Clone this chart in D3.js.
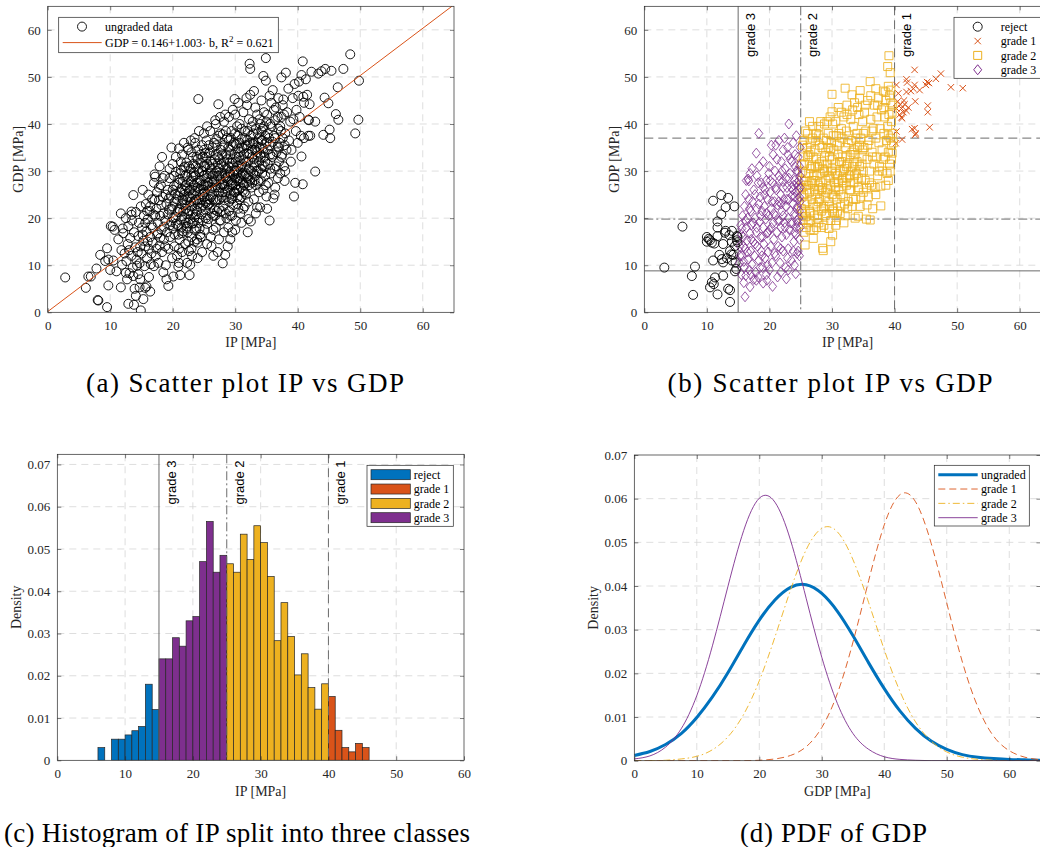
<!DOCTYPE html>
<html><head><meta charset="utf-8">
<script src="https://cdn.jsdelivr.net/npm/d3@7"></script>
<style>
body{margin:0;background:#fff}
svg{display:block}
</style>
</head><body>
<svg id="chart" width="1040" height="847"></svg>
<script>
// ================= DATA =================
// (a) ungraded data: [IP, GDP]
const scatterA = [
[2.8,7.4],[6.1,5.2],[6.5,7.6],[6.9,7.6],[7.8,9.3],[8.0,2.6],[8.1,2.5],[8.4,12.2],[9.5,1.1],[9.5,13.6],[9.7,5.7],[9.7,11.2],[9.2,10.9],[10.0,9.0],[10.1,18.3],[10.4,18.2],[10.7,17.5],[10.5,11.0],[11.0,8.7],[11.3,15.5],[11.7,21.0],[11.7,5.3],[11.8,13.2],[11.9,10.1],[12.0,17.8],[12.1,16.8],[12.3,12.5],[12.5,8.4],[12.6,10.9],[12.8,14.5],[12.9,1.8],[12.9,18.3],[12.7,7.0],[12.5,20.0],[13.4,21.4],[13.4,20.7],[13.7,24.9],[13.8,1.6],[13.7,7.7],[14.5,8.1],[14.8,7.0],[14.9,0.4],[15.3,2.8],[14.1,3.5],[14.7,5.3],[15.6,5.2],[16.4,4.4],
[13.2,15.8],[13.4,12.0],[13.5,19.5],[13.6,9.5],[13.8,17.0],[14.0,13.8],[14.1,21.3],[14.2,11.2],[14.3,9.9],[14.5,16.2],[14.6,19.0],[14.7,10.4],[14.8,14.0],[14.9,22.5],[13.9,5.0],[13.1,8.3],[14.4,12.8],[13.0,13.2],
[15.0,12.5],[15.1,18.0],[15.2,26.0],[15.3,15.2],[15.4,20.5],[15.5,9.8],[15.6,14.0],[15.7,23.0],[15.8,17.2],[15.9,11.5],[16.0,19.8],[16.1,25.0],[16.2,13.5],[16.3,21.5],[16.4,16.0],[16.5,10.2],[16.6,18.5],[16.7,24.0],[16.8,14.8],[16.9,20.8],[17.0,27.5],[17.0,9.8],[16.2,7.5],[15.8,5.5],
[17.1,29.3],[17.2,28.8],[17.3,12.0],[17.4,22.0],[17.5,16.5],[17.5,25.5],[17.6,19.0],[17.7,10.5],[17.8,23.8],[17.9,14.2],[18.0,20.5],[18.1,27.0],[18.2,17.5],[18.3,12.8],[18.4,24.5],[18.5,21.0],[18.6,15.5],[18.7,29.0],[18.8,19.5],[18.9,10.0],[19.0,23.0],[19.0,7.0],[19.1,17.0],[19.2,26.0],[18.5,8.5],[17.9,31.0],[18.3,33.0],
[19.3,5.6],[19.3,13.5],[19.4,21.8],[19.5,28.5],[19.6,16.0],[19.7,24.8],[19.8,19.2],[19.9,11.5],[20.0,31.5],[20.0,22.5],[20.1,7.6],[20.1,17.8],[20.2,26.8],[20.3,14.0],[20.4,20.2],[20.5,29.8],[20.6,24.0],[20.7,12.0],[20.8,18.5],[20.9,9.7],[20.9,27.5],[21.0,22.0],[21.0,34.8],[20.5,33.0],[19.8,35.0],[20.3,16.5],
[21.1,15.5],[21.2,7.9],[21.2,25.5],[21.3,30.2],[21.3,19.5],[21.4,23.0],[21.5,12.8],[21.5,33.5],[21.6,27.8],[21.7,17.2],[21.7,21.5],[21.8,36.0],[21.9,25.0],[22.0,14.5],[22.0,29.0],[22.1,19.0],[22.2,23.8],[22.2,31.8],[22.3,10.5],[22.3,26.5],[22.4,17.0],[22.5,21.0],[22.5,34.5],[22.6,28.0],[22.6,13.0],[22.7,7.9],[22.7,24.5],[22.8,10.1],[22.8,19.8],[22.9,30.5],[22.9,36.5],[23.0,22.5],[23.0,16.0],[21.6,24.0],[22.1,27.0],[21.4,18.0],
[23.1,26.5],[23.1,12.0],[23.2,33.0],[23.3,19.0],[23.3,28.8],[23.4,23.5],[23.5,15.0],[23.5,37.0],[23.6,25.8],[23.7,20.8],[23.7,31.0],[23.8,17.8],[23.9,27.5],[24.0,23.0],[24.0,14.8],[24.1,45.3],[24.1,34.5],[24.2,29.8],[24.2,20.0],[24.3,25.0],[24.4,16.5],[24.5,31.8],[24.5,22.2],[24.6,27.0],[24.7,12.8],[24.7,35.5],[24.8,19.5],[24.9,29.0],[25.0,24.5],[25.0,38.0],[23.9,15.5],[24.4,26.2],[23.5,22.0],[24.8,33.0],
[25.1,17.5],[25.2,31.0],[25.2,21.8],[25.3,27.0],[25.4,36.5],[25.5,14.5],[25.5,24.0],[25.6,29.5],[25.7,19.8],[25.8,33.8],[25.9,26.0],[26.0,22.0],[26.0,38.5],[26.1,16.0],[26.2,30.5],[26.3,25.0],[26.4,35.0],[26.5,12.0],[26.5,20.5],[26.6,28.0],[26.7,32.5],[26.8,23.8],[26.9,18.0],[27.0,30.0],[27.0,36.8],[26.3,27.5],[25.8,23.0],[26.8,26.5],[25.4,33.0],[26.9,40.0],
[27.1,21.5],[27.2,26.5],[27.3,44.2],[27.3,33.0],[27.4,15.5],[27.5,29.0],[27.5,24.0],[27.6,38.0],[27.7,19.5],[27.8,31.5],[27.9,27.0],[28.0,10.4],[28.0,35.0],[28.1,22.5],[28.2,40.5],[28.2,17.0],[28.3,29.5],[28.4,12.2],[28.4,25.5],[28.5,33.5],[28.6,20.0],[28.7,37.0],[28.8,14.0],[28.8,27.8],[28.9,31.0],[29.0,23.5],[29.0,41.5],[27.8,24.5],[28.5,28.5],[27.4,30.5],[28.2,32.0],[28.9,18.0],[29.0,26.5],
[29.1,34.5],[29.2,20.5],[29.2,29.5],[29.3,25.0],[29.4,38.5],[29.5,17.0],[29.5,31.8],[29.6,27.0],[29.7,22.8],[29.8,36.0],[29.9,45.3],[29.9,30.0],[30.0,25.5],[30.0,42.0],[30.1,19.5],[30.2,33.0],[30.3,28.0],[30.3,23.0],[30.4,37.5],[30.5,31.0],[30.6,26.0],[30.7,40.0],[30.8,21.0],[30.8,34.0],[30.9,29.0],[31.0,24.5],[31.0,36.8],[29.6,32.5],[30.4,29.5],[30.1,27.0],[29.4,28.0],[30.7,24.0],
[31.1,31.5],[31.2,27.5],[31.3,42.5],[31.3,22.0],[31.4,34.8],[31.5,29.0],[31.6,38.5],[31.7,25.0],[31.8,32.0],[31.9,44.0],[32.0,28.5],[32.0,35.5],[32.1,19.8],[32.1,23.5],[32.2,30.5],[32.3,52.8],[32.4,51.7],[32.4,46.2],[32.5,19.3],[32.5,37.5],[32.6,26.5],[32.7,33.0],[32.8,40.5],[32.9,29.5],[33.0,24.0],[33.0,36.0],[31.5,25.5],[32.2,27.0],
[33.1,31.0],[33.2,43.5],[33.3,27.0],[33.4,35.0],[33.5,22.3],[33.6,38.0],[33.7,30.0],[33.8,25.5],[33.9,41.0],[34.0,22.3],[34.0,33.5],[34.1,28.0],[34.2,45.0],[34.3,36.5],[34.4,31.0],[34.5,50.2],[34.5,26.0],[34.6,39.5],[34.7,33.0],[34.8,29.0],[34.9,54.0],[34.9,49.2],[35.0,24.6],[35.0,36.0],[34.2,38.5],[33.6,33.0],
[35.1,42.0],[35.2,31.5],[35.3,27.5],[35.5,19.5],[35.5,35.5],[35.6,40.0],[35.7,29.5],[35.9,33.0],[36.0,47.2],[36.1,24.2],[36.2,37.5],[36.3,30.5],[36.5,43.5],[36.6,34.0],[36.8,28.5],[36.9,39.0],[37.0,32.0],[36.4,26.5],[35.8,44.5],
[37.1,36.0],[37.2,29.5],[37.4,49.9],[37.4,41.5],[37.5,33.5],[37.6,44.0],[37.8,31.0],[37.9,27.9],[38.0,38.0],[38.1,50.9],[38.2,34.5],[38.3,42.5],[38.5,47.5],[38.6,36.5],[38.8,40.5],[39.0,34.5],[38.9,32.0],[37.7,45.2],
[39.2,45.5],[39.3,41.0],[39.4,24.6],[39.5,48.5],[39.6,27.5],[39.7,38.5],[39.8,43.0],[40.0,36.0],[40.1,46.0],[40.2,49.0],[40.3,41.5],[40.5,37.5],[40.6,50.4],[40.6,33.1],[40.8,53.3],[40.8,27.2],[40.9,45.8],[41.0,44.5],[41.0,37.0],[41.3,49.5],[41.5,46.2],[41.8,40.8],[41.9,44.2],[42.0,37.5],
[42.2,51.1],[42.8,29.9],[43.3,50.7],[43.8,51.2],[44.1,37.7],[44.3,45.6],[44.4,51.7],[44.9,44.4],[45.1,38.8],[45.2,37.0],[45.4,51.3],[46.1,42.1],[46.4,47.8],[46.5,40.9],[47.3,51.7],[48.4,54.8],[49.2,38.0],[49.7,40.9],[49.8,49.2],[41.7,40.9],[42.8,40.5],[41.7,37.5],
[20.4,25.2],[20.8,21.3],[21.1,28.2],[21.5,20.4],[21.9,22.8],[22.3,18.2],[22.6,25.8],[22.9,27.8],[23.2,21.0],[23.4,29.8],[23.8,24.0],[24.1,19.0],[24.3,28.0],[24.6,23.8],[24.9,26.0],[25.1,29.0],[25.3,23.2],[25.6,26.8],[25.9,30.8],[26.1,24.5],[26.4,29.0],[26.7,21.8],[26.9,27.8],[27.2,31.5],[27.4,25.5],[27.7,28.2],[27.9,33.5],[28.1,27.2],[28.3,23.8],[28.6,30.5],[28.8,26.0],[29.1,31.8],[29.3,27.2],[29.5,24.2],[29.8,29.2],[30.1,32.0],[30.3,26.0],[30.5,34.8],[30.8,28.0],[31.0,31.0],[31.2,25.8],[31.4,33.5],[31.7,29.5],[31.9,36.5],[32.1,32.0],[32.4,28.0],[32.7,34.5],[32.9,31.8],[33.2,29.0],[33.5,34.0],[33.8,37.0],[34.1,30.5],[34.4,35.0],[34.8,32.0],[35.2,38.0],[35.6,33.5],[36.0,36.2],[36.4,40.8],[36.8,35.2],[37.3,38.5],[22.0,31.0],[23.0,34.0],[24.0,32.5],[25.0,34.5],[26.0,34.0],[27.0,35.5],[28.0,37.8],[29.0,36.5],[30.0,38.0],[26.5,17.5],[25.5,18.8],[24.5,16.0],[27.5,19.5],[28.5,21.0],[29.5,20.5],[30.5,22.0],[31.5,22.5],[23.5,17.5],[22.5,15.0],[21.0,13.5],
[19.2,20.8],[19.4,24.2],[19.6,18.5],[19.8,22.0],[20.0,26.0],[20.1,20.0],[20.3,23.5],[20.5,18.8],[20.6,27.0],[20.8,24.8],[20.9,16.5],[21.1,21.8],[21.2,29.5],[21.4,26.2],[21.5,16.8],[21.7,23.8],[21.8,30.8],[21.9,20.0],[22.0,25.8],[22.2,17.8],[19.5,30.5],[20.2,29.0],[21.3,32.0],[21.0,10.5],
[22.1,22.0],[22.3,28.8],[22.4,24.5],[22.5,19.0],[22.6,31.0],[22.7,21.5],[22.8,26.0],[22.9,23.5],[23.0,29.0],[23.1,18.8],[23.2,25.0],[23.3,31.5],[23.4,27.0],[23.5,20.2],[23.6,29.0],[23.7,23.8],[23.8,33.0],[23.9,21.5],[24.0,26.5],[24.1,30.5],[24.2,24.0],[24.3,17.8],[24.4,33.5],[24.5,28.0],[24.6,20.8],[24.7,30.0],[24.8,25.0],[24.9,22.8],[25.0,31.0],[25.0,27.0],[22.4,35.0],[23.6,36.0],[24.2,38.5],[23.0,13.5],[24.0,11.5],
[25.1,25.5],[25.2,33.8],[25.3,20.0],[25.4,28.5],[25.5,31.5],[25.6,22.8],[25.7,27.5],[25.8,35.5],[25.9,24.0],[26.0,29.5],[26.1,32.0],[26.2,21.0],[26.3,26.5],[26.4,31.5],[26.5,24.0],[26.6,36.0],[26.7,29.5],[26.8,20.5],[26.9,33.5],[27.0,27.0],[27.1,24.0],[27.2,29.0],[27.3,37.5],[27.4,22.0],[27.5,32.5],[27.6,26.5],[27.7,34.5],[27.8,21.5],[27.9,29.5],[28.0,25.5],[25.5,39.5],[26.8,40.8],[27.6,41.5],[26.2,14.0],[27.2,12.8],
[28.1,31.0],[28.2,35.5],[28.3,26.8],[28.4,29.0],[28.5,38.5],[28.6,24.5],[28.7,32.5],[28.8,28.8],[28.9,35.0],[29.0,21.5],[29.1,29.8],[29.2,33.5],[29.3,37.0],[29.4,24.0],[29.5,27.5],[29.6,35.5],[29.7,31.0],[29.8,25.5],[29.9,33.5],[30.0,28.5],[30.1,35.8],[30.2,30.0],[30.3,39.5],[30.4,24.5],[30.5,28.5],[30.6,33.0],[30.7,36.0],[30.8,30.5],[30.9,26.5],[31.0,39.0],[28.4,42.0],[29.6,43.0],[30.5,44.5],[29.2,15.5],[30.0,17.5],[31.0,19.0],
[31.1,35.0],[31.2,29.5],[31.3,32.5],[31.4,27.0],[31.5,37.0],[31.6,31.0],[31.7,35.5],[31.8,27.5],[31.9,33.8],[32.0,38.5],[32.1,29.0],[32.2,41.0],[32.3,33.5],[32.4,36.0],[32.5,30.0],[32.6,39.5],[32.7,27.5],[32.8,35.8],[32.9,38.0],[33.0,32.5],[33.1,28.0],[33.2,34.5],[33.3,39.0],[33.4,30.0],[33.5,42.0],[33.6,36.0],[33.7,27.8],[33.8,32.0],[33.9,35.0],[34.0,40.0],[31.8,45.5],[33.0,47.0],[32.0,17.0],[33.3,21.0],
[34.1,33.0],[34.2,36.5],[34.3,29.5],[34.4,39.0],[34.5,34.0],[34.6,42.5],[34.7,31.0],[34.8,37.5],[34.9,27.0],[35.0,40.5],[35.2,34.5],[35.4,37.0],[35.6,30.5],[35.8,39.5],[36.0,33.5],[36.2,43.0],[36.4,37.0],[36.6,31.0],[36.8,41.5],[37.0,35.0],[37.2,39.5],[37.4,33.0],[37.6,37.0],[37.8,42.0],[38.0,30.0],[35.5,46.0],[36.9,45.5],[37.9,35.5],[35.1,22.0],[36.3,25.0],
[15.2,16.5],[15.6,19.0],[16.0,15.0],[16.4,22.5],[16.8,18.0],[17.2,20.5],[17.6,16.8],[17.8,26.5],[18.2,22.8],[18.6,18.2],[18.9,25.0],[16.6,12.5],[17.4,13.5],[18.0,15.8],[18.8,14.0],[17.1,24.0],[15.9,21.5],[18.4,28.5]
];
const fitIntercept = 0.146, fitSlope = 1.003, fitR2 = 0.621;

// (b) graded data: [IP, GDP]
const rejectB = [
[3.2,9.5],[6.1,18.2],[8.1,9.7],[7.6,7.7],[7.8,3.7],[11.0,23.7],[12.3,24.9],[13.4,24.3],[13.0,22.3],[14.4,22.5],[12.3,20.8],[11.7,19.3],[11.7,18.0],[10.0,16.0],[10.5,15.3],[10.0,15.0],[10.8,14.8],[11.2,14.6],[10.3,15.6],[11.7,16.2],[12.9,16.9],[14.0,17.3],[13.6,16.4],[12.6,14.5],[14.0,15.0],[14.8,16.2],[14.8,15.3],[14.9,16.0],[14.5,14.1],[13.7,13.0],[11.0,11.0],[12.4,11.3],[12.6,10.6],[13.2,11.5],[14.0,11.0],[14.6,10.6],[14.5,8.7],[13.9,12.3],[12.6,7.8],[11.3,7.4],[10.8,6.4],[11.1,6.0],[10.5,5.3],[13.4,5.0],[13.7,4.7],[11.7,3.8],[13.7,2.2],[14.7,9.2],[12.0,12.2],[13.0,17.3],[14.2,12.2],[14.9,14.9]
];
const grade1B = [
[40.3,48.3],[41.9,49.5],[43.2,51.5],[43.2,48.3],[43.0,47.5],[42.6,47.0],[41.9,46.8],[45.0,48.3],[45.5,48.7],[46.6,49.6],[47.4,50.7],[45.2,48.9],[49.0,47.8],[50.9,47.6],[40.9,44.1],[41.6,44.2],[41.1,43.3],[41.9,42.8],[41.4,42.5],[40.3,43.3],[43.3,44.8],[45.3,43.9],[45.3,42.5],[41.1,41.4],[41.2,41.2],[43.2,39.1],[42.8,38.9],[45.6,39.3],[43.4,38.0],[43.3,37.7],[40.3,38.4],[41.2,36.7],[40.2,35.9],[40.5,44.8],[41.5,45.0],[42.2,43.5],[40.8,42.0],[44.0,47.2],[42.0,48.8],[40.6,46.5]
];
const grade2B = [
[39.1,54.5],[38.9,52.2],[39.3,50.9],[36.1,49.0],[34.5,47.1],[33.2,46.2],[32.1,47.6],[30.0,46.3],[39.0,48.0],[38.5,46.8],[39.4,47.2],[30.0,42.6],[25.7,14.3],[27.0,15.7],[28.5,13.6],[28.6,13.1],[30.1,16.4],[29.8,15.0],[36.1,19.6],[33.7,20.0],[34.2,20.4],[37.8,22.6],[35.6,22.8],[26.5,17.5],[27.5,18.0],[25.5,17.0],
[25.1,22.0],[25.2,28.0],[25.3,35.5],[25.4,19.5],[25.5,25.0],[25.6,31.5],[25.7,21.5],[25.8,38.5],[25.9,27.0],[26.0,23.5],[26.1,33.0],[26.2,19.0],[26.3,29.5],[26.4,25.5],[26.5,36.0],[26.6,21.0],[26.7,31.0],[26.8,27.5],[26.9,39.5],[27.0,23.0],[25.3,30.0],[26.0,26.0],[26.6,34.0],[25.8,20.3],[25.2,24.5],[26.4,40.5],
[27.1,29.0],[27.2,20.5],[27.3,34.5],[27.4,25.0],[27.5,38.0],[27.6,22.5],[27.7,31.0],[27.8,27.0],[27.9,19.0],[28.0,35.5],[28.0,24.0],[28.1,29.5],[28.2,40.5],[28.3,21.5],[28.4,32.0],[28.5,26.5],[28.6,37.0],[28.7,18.5],[28.8,30.0],[28.9,24.5],[29.0,34.0],[29.0,28.0],[27.5,32.5],[28.3,26.0],[27.9,37.5],[28.7,22.5],[27.3,28.0],
[29.1,21.0],[29.2,31.5],[29.3,26.0],[29.4,38.0],[29.5,23.5],[29.6,33.0],[29.7,28.5],[29.8,19.5],[29.9,36.0],[30.0,25.0],[30.0,30.5],[30.1,40.0],[30.2,22.0],[30.3,34.5],[30.4,27.5],[30.5,31.5],[30.6,18.5],[30.7,37.5],[30.8,24.0],[30.9,29.0],[31.0,33.5],[31.0,43.5],[29.5,29.0],[30.3,24.5],[29.8,34.8],[30.6,26.5],[29.2,40.5],[30.9,21.5],
[31.1,26.0],[31.2,36.0],[31.3,30.0],[31.4,22.5],[31.5,39.0],[31.6,28.0],[31.7,33.0],[31.8,24.5],[31.9,41.5],[32.0,30.5],[32.1,20.5],[32.2,35.0],[32.3,27.0],[32.4,44.0],[32.5,31.5],[32.6,23.5],[32.7,37.5],[32.8,29.0],[32.9,33.5],[33.0,26.0],[31.5,32.0],[32.3,38.5],[33.0,41.0],[31.9,27.5],
[33.1,36.5],[33.2,22.5],[33.3,31.0],[33.4,39.5],[33.5,27.5],[33.6,44.5],[33.7,33.5],[33.8,24.0],[33.9,29.5],[34.0,38.0],[34.1,35.0],[34.2,26.5],[34.3,42.0],[34.4,31.0],[34.5,22.5],[34.6,37.0],[34.7,28.5],[34.8,33.0],[34.9,40.5],[35.0,25.5],[33.5,34.5],[34.4,45.5],[35.0,30.0],
[35.1,35.0],[35.2,42.5],[35.3,28.0],[35.4,38.5],[35.6,32.5],[35.7,45.0],[35.8,24.5],[35.9,36.5],[36.0,30.0],[36.2,41.0],[36.3,27.0],[36.4,34.0],[36.6,39.0],[36.7,31.5],[36.8,44.0],[36.9,26.5],[37.0,37.0],[36.5,22.0],[35.5,19.8],
[37.1,33.0],[37.2,41.5],[37.3,29.0],[37.4,45.5],[37.5,36.0],[37.6,31.0],[37.7,39.0],[37.8,26.8],[37.9,43.0],[38.0,34.5],[38.1,30.0],[38.3,38.0],[38.4,41.5],[38.5,33.0],[38.6,45.0],[38.7,36.5],[38.8,29.5],[38.9,39.5],[39.0,34.0],[39.1,42.0],[39.2,31.5],[39.3,37.0],[39.4,44.5],[39.5,35.5],[39.5,40.5],[39.6,33.8],[38.2,47.0],[37.0,47.5],[39.7,38.0],[39.3,30.0],[39.0,28.0],
[25.2,26.5],[25.4,33.0],[25.6,23.0],[25.8,29.5],[26.0,35.0],[26.2,27.0],[26.4,21.5],[26.6,30.5],[26.8,24.0],[27.0,33.0],[27.2,26.0],[27.4,36.5],[27.6,29.0],[27.8,23.5],[28.0,31.5],[28.2,27.5],[28.4,35.0],[28.6,22.0],[28.8,33.0],[29.0,25.5],[29.2,30.0],[29.4,35.0],[29.6,22.5],[29.8,27.0],[30.0,32.5],[30.2,37.5],[30.4,21.0],[30.6,29.5],[30.8,35.5],[31.0,27.5],[31.2,32.0],[31.4,25.0],[31.6,37.0],[31.8,30.0],[32.0,23.0],[32.2,33.0],[32.4,28.5],[32.6,36.0],[32.8,26.0],[33.0,30.0],[33.2,34.0],[33.4,24.0],[33.6,29.0],[33.8,37.0],[34.0,32.0],[34.2,28.5],[34.4,35.5],[34.6,24.5],[34.8,31.5],[35.0,38.0],
[25.3,21.0],[25.9,18.0],[26.5,19.5],[27.1,17.5],[27.7,20.0],[28.3,18.0],[28.9,20.5],[29.5,17.8],[30.1,21.5],[30.7,19.5],[31.3,21.0],[31.9,19.0],[32.5,22.0],[26.1,38.0],[26.9,37.0],[27.9,39.5],[28.8,40.0],[29.7,41.5],[30.6,40.5],[31.5,42.5],[32.4,42.0],[33.3,43.0],[34.1,43.5],[35.3,44.0],[36.2,46.0],[37.3,44.0],[38.3,43.5],[39.2,46.0],[36.5,33.0],[37.5,30.0],[38.2,32.5],[39.0,37.5],[36.0,27.5],[37.0,25.0],[35.5,26.5],[38.6,27.0],[39.5,32.5],[39.7,44.0],[39.6,42.5],[39.8,36.0],
[25.1,31.5],[25.5,36.5],[25.7,27.8],[26.3,33.5],[26.7,28.0],[27.3,31.0],[27.9,26.0],[28.5,30.5],[29.1,36.5],[29.9,30.0],[30.5,26.0],[31.1,38.0],[31.7,28.5],[32.3,31.0],[32.9,27.5],[33.5,31.5],[34.3,26.0],[34.9,34.5],[35.7,35.5],[36.4,38.5]
];
const grade3B = [
[18.3,38.0],[23.1,40.0],[24.3,37.5],[21.0,35.5],[17.9,33.8],[16.9,29.5],[16.6,28.3],[16.7,27.9],[22.2,34.5],[23.0,33.4],[16.1,3.3],[16.9,5.4],[15.9,6.3],[17.9,6.8],[19.0,6.2],[21.3,7.5],[22.7,7.1],[24.2,8.2],[18.5,9.5],[20.0,9.0],
[15.2,10.5],[15.3,14.0],[15.4,18.5],[15.5,8.0],[15.6,12.0],[15.7,20.5],[15.8,16.0],[15.9,10.8],[16.0,22.5],[16.1,13.5],[16.2,7.8],[16.3,18.0],[16.4,15.2],[16.5,20.0],[16.6,11.2],[16.7,24.0],[16.8,9.0],[16.9,16.8],[17.0,13.0],[17.0,21.5],[15.5,16.5],[16.2,25.0],
[17.1,18.5],[17.2,10.2],[17.3,23.5],[17.4,15.0],[17.5,26.0],[17.6,12.0],[17.7,20.0],[17.8,8.5],[17.9,17.0],[18.0,22.0],[18.1,14.0],[18.2,27.5],[18.3,11.0],[18.4,19.2],[18.5,24.5],[18.6,16.0],[18.7,13.0],[18.8,21.5],[18.9,9.5],[19.0,26.5],[19.0,18.0],[18.4,31.0],[18.0,29.0],[17.5,7.0],
[19.1,14.5],[19.2,22.5],[19.3,11.5],[19.4,19.8],[19.5,28.0],[19.6,16.8],[19.7,24.0],[19.8,12.8],[19.9,20.5],[20.0,31.0],[20.0,17.5],[20.1,25.5],[20.2,14.0],[20.3,22.0],[20.4,10.5],[20.5,27.5],[20.6,19.0],[20.7,15.5],[20.8,23.5],[20.9,30.0],[21.0,12.0],[21.0,20.5],[19.5,8.0],[20.6,33.5],[19.3,26.0],[20.3,18.0],
[21.1,26.0],[21.2,17.0],[21.3,22.8],[21.4,14.0],[21.5,29.0],[21.6,19.5],[21.7,10.5],[21.8,25.0],[21.9,32.0],[22.0,16.0],[22.0,21.5],[22.1,27.8],[22.2,13.0],[22.3,24.0],[22.4,19.0],[22.5,30.5],[22.6,9.5],[22.6,22.5],[22.7,16.5],[22.8,26.5],[22.9,35.0],[23.0,20.0],[23.0,13.5],[21.5,23.5],[22.2,20.5],[21.8,18.0],[22.7,28.5],
[23.1,24.0],[23.2,17.5],[23.3,29.5],[23.4,21.5],[23.5,11.0],[23.5,26.5],[23.6,32.0],[23.7,19.0],[23.8,23.0],[23.9,15.0],[24.0,28.0],[24.0,21.0],[24.1,33.5],[24.2,25.5],[24.3,18.0],[24.4,12.5],[24.5,30.0],[24.5,22.5],[24.6,27.0],[24.7,20.0],[24.8,24.5],[24.8,15.5],[24.9,29.0],[24.9,35.0],[23.6,24.8],[24.3,22.0],[24.7,26.0],[24.4,19.5],[23.9,27.0],[24.8,21.5],[24.9,18.0],[24.6,13.0],
[15.3,12.0],[15.6,17.8],[15.9,14.0],[16.2,19.5],[16.5,12.8],[16.8,22.0],[17.1,15.5],[17.4,19.0],[17.7,14.5],[18.0,18.0],[18.3,23.0],[18.6,20.5],[18.9,16.0],[19.2,25.0],[19.5,21.0],[19.8,17.0],[20.1,28.0],[20.4,23.5],[20.7,21.0],[21.0,26.5],[21.3,19.5],[21.6,28.0],[21.9,23.0],[22.2,26.5],[22.5,18.0],[22.8,24.0],[23.1,28.5],[23.4,19.0],[23.7,26.0],[24.0,24.5],[24.3,30.0],[24.6,24.0],[24.9,26.5],[24.2,16.5],[23.8,13.0],[22.9,11.5],[21.8,13.5],[20.8,12.5],[19.7,10.0],[18.8,12.0],
[16.0,9.5],[17.0,8.0],[18.2,7.5],[19.6,6.8],[20.5,5.5],[21.8,8.5],[23.0,9.0],[24.0,10.0],[24.8,12.0],[16.3,28.0],[17.2,30.5],[19.0,32.0],[20.3,35.5],[21.5,36.5],[22.4,37.0],[23.8,36.0],[24.6,33.0],[24.1,31.0],[23.3,32.5],[22.0,30.0],[21.2,32.5],[19.9,29.5],[18.7,27.5],[17.7,25.0],[24.7,28.0],[24.5,19.0],[24.9,23.5],[24.4,27.5],[24.8,31.0],[24.0,17.0]
];
const ipLimits = [15, 25, 40];
const gdpLimits = [8.8, 19.8, 37.0];
const gradeNames = ["grade 3", "grade 2", "grade 1"];
const classNames = ["reject", "grade 1", "grade 2", "grade 3"];

// (c) histogram of IP, 1 MPa bins
const histBinStart = [6,7,8,9,10,11,12,13,14,15,16,17,18,19,20,21,22,23,24,25,26,27,28,29,30,31,32,33,34,35,36,37,38,39,40,41,42,43,44,45];
const histDensity = [0.003,0,0.005,0.005,0.006,0.007,0.008,0.018,0.012,0.024,0.024,0.029,0.027,0.033,0.034,0.047,0.0565,0.0445,0.0485,0.0465,0.0445,0.0535,0.0475,0.0555,0.0515,0.0435,0.0283,0.0373,0.0293,0.0202,0.0252,0.0172,0.0121,0.0181,0.0151,0.0071,0.003,0.002,0.004,0.003];

// (d) PDF of GDP
const pdfX = [0,2.5,5,7.5,10,12.5,15,17.5,20,22.5,25,27.5,30,32.5,35,37.5,40,42.5,45,47.5,50,52.5,55,57.5,60,62.5,65];
const pdfUngraded = [0.0012,0.0021,0.0037,0.0062,0.0099,0.0146,0.0202,0.0264,0.0322,0.0368,0.0397,0.0403,0.0383,0.0342,0.0286,0.0224,0.0165,0.0114,0.0074,0.0045,0.0026,0.0014,0.0008,0.0005,0.0003,0.0002,0.0001];
const pdfGrade1 = [0,0,0,0,0,0,0,0,0.0001,0.0004,0.0012,0.0032,0.0076,0.0154,0.0272,0.0412,0.0540,0.0609,0.0593,0.0498,0.0361,0.0226,0.0122,0.0056,0.0023,0.0008,0.0002];
const pdfGrade2 = [0,0,0.0001,0.0004,0.0010,0.0025,0.0055,0.0106,0.0183,0.0283,0.0391,0.0483,0.0532,0.0524,0.0460,0.0362,0.0254,0.0159,0.0089,0.0045,0.0020,0.0008,0.0003,0.0001,0,0,0];
const pdfGrade3 = [0.0004,0.0011,0.0031,0.0073,0.0149,0.0263,0.0400,0.0527,0.0601,0.0592,0.0505,0.0372,0.0237,0.0131,0.0062,0.0026,0.0009,0.0003,0.0001,0,0,0,0,0,0,0,0];
const pdfNames = ["ungraded", "grade 1", "grade 2", "grade 3"];

const ticks65 = [0,10,20,30,40,50,60];
const ticksDensity = [0,0.01,0.02,0.03,0.04,0.05,0.06,0.07];
const captions = ["(a) Scatter plot IP vs GDP", "(b) Scatter plot IP vs GDP", "(c) Histogram of IP split into three classes", "(d) PDF of GDP"];

// ================= STYLE =================
const C_BLUE = "#0072BD", C_ORANGE = "#D95319", C_YELLOW = "#EDB120", C_PURPLE = "#7E2F8E";
const AX = "#262626", GRID = "#d6d6d6", LIM = "#6b6b6b";
const SERIF = "Liberation Serif";
const SANS = "Liberation Sans";

const svg = d3.select("#chart");
const defs = svg.append("defs");
let clipN = 0;

function makePanel(o) {
  const id = "clip" + (clipN++);
  defs.append("clipPath").attr("id", id).append("rect")
    .attr("x", o.x0).attr("y", o.y0).attr("width", o.x1 - o.x0).attr("height", o.y1 - o.y0);
  const x = d3.scaleLinear().domain(o.xd).range([o.x0, o.x1]);
  const y = d3.scaleLinear().domain(o.yd).range([o.y1, o.y0]);
  const g = svg.append("g");
  g.append("rect").attr("x", o.x0).attr("y", o.y0).attr("width", o.x1 - o.x0).attr("height", o.y1 - o.y0).attr("fill", "#fff");
  const grid = g.append("g").attr("stroke", GRID).attr("stroke-width", 0.8).attr("stroke-dasharray", "7,5");
  grid.selectAll(".gx").data(o.xt.filter(v => v > o.xd[0] && v < o.xd[1])).join("line")
    .attr("x1", d => x(d)).attr("x2", d => x(d)).attr("y1", o.y0).attr("y2", o.y1);
  grid.selectAll(".gy").data(o.yt.filter(v => v > o.yd[0] && v < o.yd[1])).join("line")
    .attr("y1", d => y(d)).attr("y2", d => y(d)).attr("x1", o.x0).attr("x2", o.x1);
  const plot = g.append("g").attr("clip-path", `url(#${id})`);
  return { x, y, g, plot, o };
}

function finishPanel(p) {
  const { x, y, o } = p;
  const ax = svg.append("g");
  ax.append("g").attr("transform", `translate(0,${o.y1})`)
    .call(d3.axisBottom(x).tickValues(o.xt).tickFormat(o.xf).tickSize(-4).tickPadding(8.5));
  ax.append("g").attr("transform", `translate(0,${o.y0})`)
    .call(d3.axisTop(x).tickValues(o.xt).tickFormat("").tickSize(-4));
  ax.append("g").attr("transform", `translate(${o.x0},0)`)
    .call(d3.axisLeft(y).tickValues(o.yt).tickFormat(o.yf).tickSize(-4).tickPadding(7));
  ax.append("g").attr("transform", `translate(${o.x1},0)`)
    .call(d3.axisRight(y).tickValues(o.yt).tickFormat("").tickSize(-4));
  ax.selectAll(".domain").remove();
  ax.selectAll(".tick line").attr("stroke", AX).attr("stroke-width", 0.6);
  ax.selectAll(".tick text").attr("font-family", SERIF).attr("font-size", 13).attr("fill", AX);
  ax.append("rect").attr("x", o.x0).attr("y", o.y0).attr("width", o.x1 - o.x0).attr("height", o.y1 - o.y0)
    .attr("fill", "none").attr("stroke", AX).attr("stroke-width", 0.7);
  svg.append("text").attr("x", (o.x0 + o.x1) / 2).attr("y", o.xlabY).attr("text-anchor", "middle")
    .attr("font-family", SERIF).attr("font-size", 14).attr("fill", AX).text(o.xlabel);
  svg.append("text").attr("transform", `translate(${o.ylabX},${(o.y0 + o.y1) / 2}) rotate(-90)`).attr("text-anchor", "middle")
    .attr("font-family", SERIF).attr("font-size", 14).attr("fill", AX).text(o.ylabel);
}

const fmtInt = d3.format("d");
const fmtDens = d => d === 0 ? "0" : d3.format(".2f")(d);

function legendBox(x, y, w, h) {
  svg.append("rect").attr("x", x).attr("y", y).attr("width", w).attr("height", h)
    .attr("fill", "#fff").attr("stroke", AX).attr("stroke-width", 0.7);
}
function legendText(x, y, t) {
  return svg.append("text").attr("x", x).attr("y", y).attr("font-family", SERIF).attr("font-size", 12).attr("fill", "#000").text(t);
}

function markerPath(kind) {
  if (kind === "x") return "M-3.2,-3.2L3.2,3.2M-3.2,3.2L3.2,-3.2";
  if (kind === "square") return "M-4,-4H4V4H-4Z";
  if (kind === "diamond") return "M0,-5L4,0L0,5L-4,0Z";
  return null;
}

function limitLine(sel, x1, y1, x2, y2, k) {
  const dash = ["none", "9,3,2,3", "9,5"][k];
  sel.append("line").attr("x1", x1).attr("y1", y1).attr("x2", x2).attr("y2", y2)
    .attr("stroke", LIM).attr("stroke-width", 1).attr("stroke-dasharray", dash);
}

// ================= PANEL A =================
const pa = makePanel({ x0: 47.7, x1: 454, y0: 6.3, y1: 312.3, xd: [0, 65], yd: [0, 65], xt: ticks65, yt: ticks65,
  xf: fmtInt, yf: fmtInt, xlabel: "IP [MPa]", ylabel: "GDP [MPa]", xlabY: 347, ylabX: 22.5 });
pa.plot.append("g").selectAll("circle").data(scatterA).join("circle")
  .attr("cx", d => pa.x(d[0])).attr("cy", d => pa.y(d[1])).attr("r", 4.5)
  .attr("fill", "none").attr("stroke", "#000").attr("stroke-width", 0.9);
pa.plot.append("line")
  .attr("x1", pa.x(0)).attr("y1", pa.y(fitIntercept)).attr("x2", pa.x(65)).attr("y2", pa.y(fitIntercept + fitSlope * 65))
  .attr("stroke", C_ORANGE).attr("stroke-width", 1);
finishPanel(pa);
legendBox(58.7, 17.3, 219.6, 35.4);
svg.append("circle").attr("cx", 82).attr("cy", 26.6).attr("r", 4.5).attr("fill", "none").attr("stroke", "#000").attr("stroke-width", 0.9);
legendText(105, 30.8, "ungraded data");
svg.append("line").attr("x1", 62.7).attr("x2", 101.7).attr("y1", 42.6).attr("y2", 42.6).attr("stroke", C_ORANGE).attr("stroke-width", 1);
{
  const t = legendText(105, 46.8, `GDP = ${fitIntercept}+${fitSlope}\u00b7 b, R`);
  t.append("tspan").attr("dy", -5).attr("font-size", 9).text("2");
  t.append("tspan").attr("dy", 5).text(` = ${fitR2}`);
}

// ================= PANEL B =================
const pb = makePanel({ x0: 644.3, x1: 1051, y0: 6.3, y1: 312.3, xd: [0, 65], yd: [0, 65], xt: ticks65, yt: ticks65,
  xf: fmtInt, yf: fmtInt, xlabel: "IP [MPa]", ylabel: "GDP [MPa]", xlabY: 347, ylabX: 618.5 });
ipLimits.forEach((v, k) => limitLine(pb.plot, pb.x(v), pb.o.y0, pb.x(v), pb.o.y1, k));
gdpLimits.forEach((v, k) => limitLine(pb.plot, pb.o.x0, pb.y(v), pb.o.x1, pb.y(v), k));
const bSeries = [
  { data: rejectB, kind: "circle", color: "#000", op: 1 },
  { data: grade1B, kind: "x", color: C_ORANGE, op: 1 },
  { data: grade2B, kind: "square", color: C_YELLOW, op: 0.85 },
  { data: grade3B, kind: "diamond", color: C_PURPLE, op: 0.8 }
];
bSeries.forEach(s => {
  const gg = pb.plot.append("g");
  if (s.kind === "circle") {
    gg.selectAll("circle").data(s.data).join("circle")
      .attr("cx", d => pb.x(d[0])).attr("cy", d => pb.y(d[1])).attr("r", 4.5)
      .attr("fill", "none").attr("stroke", s.color).attr("stroke-width", 0.9);
  } else {
    gg.selectAll("path").data(s.data).join("path")
      .attr("transform", d => `translate(${pb.x(d[0])},${pb.y(d[1])})`).attr("d", markerPath(s.kind))
      .attr("fill", "none").attr("stroke", s.color).attr("stroke-opacity", s.op).attr("stroke-width", 1);
  }
});
gradeNames.forEach((name, k) => {
  svg.append("text").attr("transform", `translate(${pb.x(ipLimits[k]) + 16.5},13) rotate(-90)`)
    .attr("text-anchor", "end").attr("font-family", SANS).attr("font-size", 13).attr("fill", "#000").text(name);
});
finishPanel(pb);
legendBox(954, 17.3, 92, 61);
bSeries.forEach((s, k) => {
  const cy = 26.7 + k * 14.35;
  if (s.kind === "circle") {
    svg.append("circle").attr("cx", 977.7).attr("cy", cy).attr("r", 4.5).attr("fill", "none").attr("stroke", s.color).attr("stroke-width", 0.9);
  } else {
    svg.append("path").attr("transform", `translate(977.7,${cy})`).attr("d", markerPath(s.kind))
      .attr("fill", "none").attr("stroke", s.color).attr("stroke-width", 1);
  }
  legendText(1000.7, cy + 4.2, classNames[k]);
});

// ================= PANEL C =================
const pc = makePanel({ x0: 57.3, x1: 464, y0: 454.3, y1: 760.3, xd: [0, 60], yd: [0, 0.0724], xt: ticks65, yt: ticksDensity,
  xf: fmtInt, yf: fmtDens, xlabel: "IP [MPa]", ylabel: "Density", xlabY: 796, ylabX: 21 });
const classColor = v => v < ipLimits[0] ? C_BLUE : v < ipLimits[1] ? C_PURPLE : v < ipLimits[2] ? C_YELLOW : C_ORANGE;
const bins = histBinStart.map((s, i) => ({ s, d: histDensity[i] })).filter(b => b.d > 0);
pc.plot.append("g").selectAll("rect").data(bins).join("rect")
  .attr("x", b => pc.x(b.s)).attr("width", b => pc.x(b.s + 1) - pc.x(b.s))
  .attr("y", b => pc.y(b.d)).attr("height", b => pc.y(0) - pc.y(b.d))
  .attr("fill", b => classColor(b.s)).attr("stroke", AX).attr("stroke-width", 0.7);
ipLimits.forEach((v, k) => limitLine(pc.plot, pc.x(v), pc.o.y0, pc.x(v), pc.o.y1, k));
gradeNames.forEach((name, k) => {
  svg.append("text").attr("transform", `translate(${pc.x(ipLimits[k]) + 16.8},460.5) rotate(-90)`)
    .attr("text-anchor", "end").attr("font-family", SANS).attr("font-size", 13).attr("fill", "#000").text(name);
});
finishPanel(pc);
legendBox(367, 465.3, 86.3, 61);
const cColors = [C_BLUE, C_ORANGE, C_YELLOW, C_PURPLE];
classNames.forEach((name, k) => {
  const cy = 474.7 + k * 14.33;
  svg.append("rect").attr("x", 371).attr("y", cy - 5).attr("width", 39.3).attr("height", 10)
    .attr("fill", cColors[k]).attr("stroke", AX).attr("stroke-width", 0.7);
  legendText(413.7, cy + 4.2, name);
});

// ================= PANEL D =================
const pd = makePanel({ x0: 634.3, x1: 1040.5, y0: 455, y1: 760.7, xd: [0, 65], yd: [0, 0.07], xt: ticks65, yt: ticksDensity,
  xf: fmtInt, yf: fmtDens, xlabel: "GDP [MPa]", ylabel: "Density", xlabY: 796, ylabX: 597.5 });
const pdfSeries = [
  { v: pdfUngraded, color: C_BLUE, w: 3, dash: "none" },
  { v: pdfGrade1, color: C_ORANGE, w: 0.9, dash: "7,4" },
  { v: pdfGrade2, color: C_YELLOW, w: 0.9, dash: "7,3,1.5,3" },
  { v: pdfGrade3, color: C_PURPLE, w: 0.9, dash: "none" }
];
const lineGen = d3.line().x((d, i) => pd.x(pdfX[i])).y(d => pd.y(d)).curve(d3.curveNatural);
pdfSeries.forEach(s => {
  pd.plot.append("path").attr("d", lineGen(s.v)).attr("fill", "none")
    .attr("stroke", s.color).attr("stroke-width", s.w).attr("stroke-dasharray", s.dash);
});
finishPanel(pd);
legendBox(934.3, 465.3, 95, 60.7);
pdfSeries.forEach((s, k) => {
  const cy = 474.7 + k * 14.33;
  svg.append("line").attr("x1", 938.3).attr("x2", 977.7).attr("y1", cy).attr("y2", cy)
    .attr("stroke", s.color).attr("stroke-width", s.w).attr("stroke-dasharray", s.dash);
  legendText(981, cy + 4.2, pdfNames[k]);
});

// ================= CAPTIONS =================
const capPos = [[245, 392, 318], [830, 392, 325], [237, 842, 466], [833.5, 842, 187]];
captions.forEach((t, i) => {
  const [cx, by, w] = capPos[i];
  svg.append("text").attr("x", cx - w / 2).attr("y", by).attr("font-family", SERIF).attr("font-size", 27)
    .attr("textLength", w).attr("lengthAdjust", "spacing").attr("fill", "#000").text(t);
});
</script>
</body></html>
